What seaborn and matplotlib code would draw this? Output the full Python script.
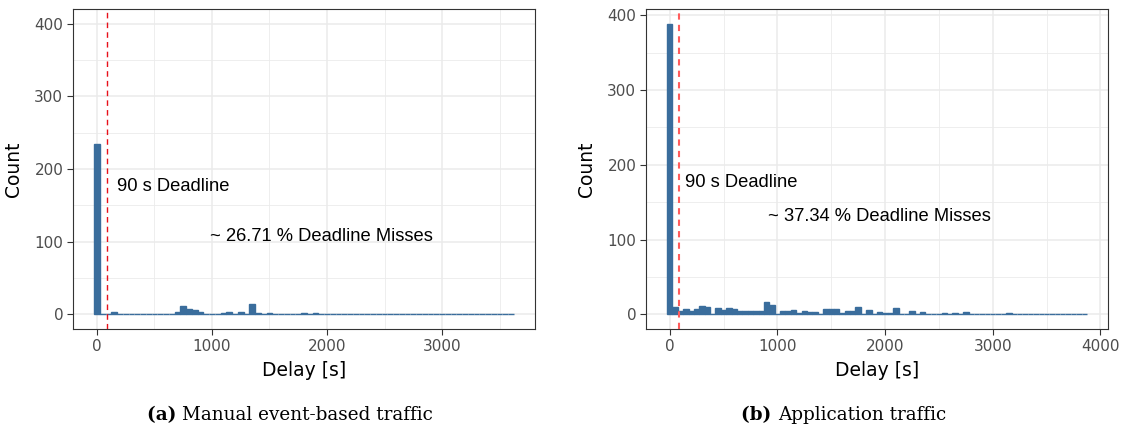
import numpy as np
import pandas as pd
import matplotlib
matplotlib.use("Agg")
import matplotlib.pyplot as plt
import seaborn as sns

# ---------------------------------------------------------------
# Histogram data: counts per 50 s delay bin, bin k centred on k*50 s
# ---------------------------------------------------------------
BIN_WIDTH = 50
DEADLINE = 90

manual_counts = [
    235, 1, 0, 3, 0, 0, 0, 0, 0, 0,      # 0 - 450 s
    0, 1, 1, 1, 4, 12, 8, 6, 4, 1,       # 500 - 950 s
    1, 0, 2, 4, 1, 3, 1, 14, 2, 1,       # 1000 - 1450 s
    2, 1, 0, 0, 1, 1, 2, 1, 2, 1,        # 1500 - 1950 s
    0, 0, 0, 1, 0, 0, 0, 1, 0, 0,        # 2000 - 2450 s
    0, 0, 0, 0, 1, 0, 0, 1, 0, 0,        # 2500 - 2950 s
    0, 0, 0, 0, 0, 0, 0, 0, 0, 0,        # 3000 - 3450 s
    0, 0, 1,                             # 3500 - 3600 s
]

app_counts = [
    389, 10, 4, 7, 4, 7, 11, 10, 1, 9,   # 0 - 450 s
    6, 8, 7, 5, 4, 4, 5, 4, 16, 13,      # 500 - 950 s
    1, 4, 5, 6, 2, 5, 3, 3, 1, 7,        # 1000 - 1450 s
    7, 7, 2, 4, 5, 10, 1, 6, 1, 3,       # 1500 - 1950 s
    2, 2, 9, 0, 0, 4, 0, 3, 0, 0,        # 2000 - 2450 s
    0, 2, 0, 2, 0, 3, 0, 0, 0, 0,        # 2500 - 2950 s
    0, 0, 0, 2, 0, 1, 0, 0, 0, 0,        # 3000 - 3450 s
    0, 0, 0, 0, 0, 0, 0, 1,              # 3500 - 3850 s
]

panels = [
    dict(counts=manual_counts, tag="(a)", caption="Manual event-based traffic",
         misses="~ 26.71 % Deadline Misses", misses_xy=(1950, 107),
         xticks=[0, 1000, 2000, 3000], xminor=[500, 1500, 2500, 3500],
         ylim=(-20, 420), vline="#e8101a", vline_lw=1.0, vline_dash=(4, 3)),
    dict(counts=app_counts, tag="(b)", caption="Application traffic",
         misses="~ 37.34 % Deadline Misses", misses_xy=(1950, 131),
         xticks=[0, 1000, 2000, 3000, 4000], xminor=[500, 1500, 2500, 3500],
         ylim=(-19.45, 408.45), vline="#ff5c5c", vline_lw=1.5, vline_dash=(3, 2.5)),
]
DEADLINE_LABEL = "90 s Deadline"
DEADLINE_LABEL_XY = (660, 176)
YTICKS = [0, 100, 200, 300, 400]
YMINOR = [50, 150, 250, 350]

BAR = "#3a6d9c"
GRID = "#ebebeb"
BORDER = "#333333"
TICKTXT = "#4d4d4d"

sns.set_theme(style="white")
plt.rcParams["font.family"] = ["DejaVu Sans"]

W, H = 1121, 434
fig = plt.figure(figsize=(W / 100, H / 100), dpi=100)


def px_axes(x0, y0, x1, y1):
    return fig.add_axes([x0 / W, 1 - y1 / H, (x1 - x0) / W, (y1 - y0) / H])


axes_px = [(73, 9, 535, 329), (646, 9, 1108, 329)]
caption_centers = [(290, 415), (843.5, 415)]

for spec, box in zip(panels, axes_px):
    ax = px_axes(*box)
    counts = np.asarray(spec["counts"], dtype=float)
    centers = np.arange(len(counts)) * BIN_WIDTH
    lo = centers[0] - BIN_WIDTH / 2
    hi = centers[-1] + BIN_WIDTH / 2
    df = pd.DataFrame({"delay": centers, "n": counts})

    sns.histplot(data=df, x="delay", weights="n", binwidth=BIN_WIDTH,
                 binrange=(lo, hi), ax=ax, color=BAR, alpha=1,
                 edgecolor=BAR, linewidth=1.0, zorder=3)

    pad = 0.05 * (hi - lo)
    ax.set_xlim(lo - pad, hi + pad)
    ax.set_ylim(*spec["ylim"])

    ax.set_xticks(spec["xticks"])
    ax.set_xticks(spec["xminor"], minor=True)
    ax.set_yticks(YTICKS)
    ax.set_yticks(YMINOR, minor=True)
    ax.grid(which="major", color=GRID, linewidth=1.1, zorder=0)
    ax.grid(which="minor", color=GRID, linewidth=0.6, zorder=0)
    ax.set_axisbelow(True)
    ax.tick_params(which="major", length=4, width=0.8, color=BORDER,
                   labelcolor=TICKTXT, labelsize=11, pad=3,
                   bottom=True, left=True)
    ax.tick_params(which="minor", length=0)
    for s in ax.spines.values():
        s.set_color(BORDER)
        s.set_linewidth(0.8)

    ax.set_xlabel("Delay [s]", fontsize=13.5, color="black", labelpad=5)
    ax.set_ylabel("Count", fontsize=13.5, color="black", labelpad=8)

    ax.axvline(DEADLINE, color=spec["vline"], lw=spec["vline_lw"],
               dashes=spec["vline_dash"], zorder=4)
    ax.text(*DEADLINE_LABEL_XY, DEADLINE_LABEL, ha="center", va="center",
            fontsize=13.2, color="black",
            family=["Liberation Sans", "DejaVu Sans"], zorder=5)
    ax.text(*spec["misses_xy"], spec["misses"], ha="center", va="center",
            fontsize=13.2, color="black",
            family=["Liberation Sans", "DejaVu Sans"], zorder=5)

# sub-figure captions: bold tag followed by the description
renderer = fig.canvas.get_renderer()
for spec, (cx, cy) in zip(panels, caption_centers):
    t1 = fig.text(0, 0, spec["tag"] + " ", fontweight="bold", fontsize=13.2,
                  family=["DejaVu Serif"], color="black", va="center", ha="left")
    t2 = fig.text(0, 0, spec["caption"], fontsize=13.2,
                  family=["DejaVu Serif"], color="black", va="center", ha="left")
    w1 = t1.get_window_extent(renderer).width
    w2 = t2.get_window_extent(renderer).width
    x0 = cx - (w1 + w2) / 2
    t1.set_position((x0 / W, 1 - cy / H))
    t2.set_position(((x0 + w1) / W, 1 - cy / H))

fig.savefig("out.png", dpi=100)
